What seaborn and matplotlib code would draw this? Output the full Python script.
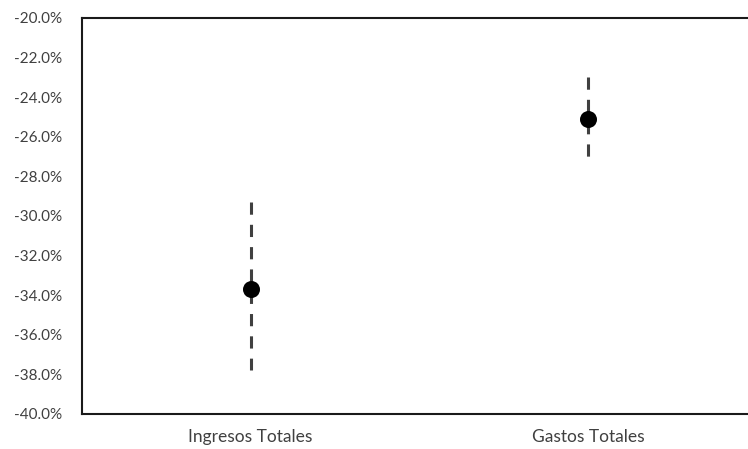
import numpy as np
import pandas as pd
import matplotlib
matplotlib.use("Agg")
import matplotlib.pyplot as plt
import seaborn as sns
from matplotlib.ticker import PercentFormatter

categories = ["Ingresos Totales", "Gastos Totales"]
estimate = [-33.7, -25.1]
lower = [-37.8, -27.0]
upper = [-29.3, -23.0]

df = pd.DataFrame({"cat": categories, "est": estimate, "lo": lower, "hi": upper})

sns.set_style("white")
plt.rcParams["font.family"] = ["Lato", "DejaVu Sans"]
plt.rcParams["axes.unicode_minus"] = False

fig = plt.figure(figsize=(7.48, 4.49), dpi=100)
ax = fig.add_axes([0.1096, 0.078, 0.902, 0.882])

x = np.arange(len(df))
# draw top-down so the dash pattern starts at the upper end
ax.vlines(x, df["hi"], df["lo"], colors="#404040", linewidth=2.2,
          linestyles=(0, (4, 3.3)), zorder=2)
sns.scatterplot(x=x, y=df["est"], ax=ax, color="black", s=150,
                edgecolor="black", linewidth=0, zorder=3, legend=False)

ax.set_xlim(-0.5, 1.5)
ax.set_ylim(-40, -20)
ax.set_yticks(np.arange(-40, -19, 2))
ax.yaxis.set_major_formatter(PercentFormatter(decimals=1))
ax.set_xticks(x)
ax.set_xticklabels(df["cat"])
ax.set_xlabel("")
ax.set_ylabel("")
ax.tick_params(axis="y", length=0, pad=14, labelsize=11, labelcolor="#404040")
ax.tick_params(axis="x", length=0, pad=11, labelsize=12.5, labelcolor="#404040")
for s in ax.spines.values():
    s.set_color("#1a1a1a")
    s.set_linewidth(1.5)

fig.savefig("out.png", dpi=100)
